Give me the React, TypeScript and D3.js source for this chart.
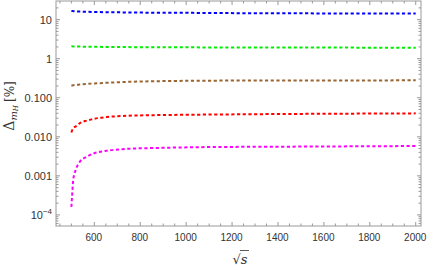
import React, { useEffect, useRef } from "react";
import * as d3 from "d3";

// sqrt(s) sample points (GeV)
const sqrtS = [500, 503, 508, 519, 537, 567, 600, 654, 741, 886, 1030, 1177, 1466, 1733, 2000];

// Delta m_H [%] for each curve
const blueVals = [16.7, 16.6, 16.5, 16.3, 16.1, 15.9, 15.7, 15.5, 15.3, 15.0, 14.9, 14.7, 14.5, 14.4, 14.3];
const greenVals = [2.07, 2.07, 2.06, 2.05, 2.04, 2.03, 2.02, 2.0, 1.98, 1.96, 1.95, 1.94, 1.93, 1.92, 1.91];
const brownVals = [0.203, 0.205, 0.208, 0.213, 0.219, 0.226, 0.232, 0.242, 0.255, 0.266, 0.272, 0.275, 0.278, 0.278, 0.279];
const redVals = [0.0129, 0.0145, 0.0165, 0.0185, 0.0224, 0.026, 0.029, 0.032, 0.0345, 0.036, 0.0368, 0.0374, 0.0385, 0.0392, 0.0398];
const magentaVals = [0.00016, 0.00030, 0.00079, 0.00143, 0.0023, 0.0031, 0.0038, 0.0044, 0.0049, 0.0052, 0.0054, 0.0055, 0.0056, 0.0057, 0.0058];

const series = [
  { name: "blue", color: "#0000ff", values: blueVals },
  { name: "green", color: "#00ee00", values: greenVals },
  { name: "brown", color: "#996633", values: brownVals },
  { name: "red", color: "#ff0000", values: redVals },
  { name: "magenta", color: "#ff00ff", values: magentaVals },
];

const xTicks = [600, 800, 1000, 1200, 1400, 1600, 1800, 2000];
const yTicks = [10, 1, 0.1, 0.01, 0.001, 0.0001];
const yTickLabels = ["10", "1", "0.100", "0.010", "0.001", "10^-4"];

function App() {
  const svgRef = useRef<SVGSVGElement>(null);

  useEffect(() => {
    const svg = d3.select(svgRef.current);
    svg.selectAll("*").remove();

    const width = 427;
    const height = 271;
    const margin = { left: 56, right: 6, top: 1, bottom: 45 };
    const frameColor = "#999";
    const textColor = "#333";

    const x = d3
      .scaleLinear()
      .domain([433, 2023])
      .range([margin.left, width - margin.right]);

    const y = d3
      .scaleLog()
      .domain([5.2e-5, 30])
      .range([height - margin.bottom, margin.top]);

    const axes = svg.append("g");

    // frame
    axes
      .append("rect")
      .attr("x", margin.left)
      .attr("y", margin.top)
      .attr("width", width - margin.left - margin.right)
      .attr("height", height - margin.top - margin.bottom)
      .attr("fill", "none")
      .attr("stroke", frameColor)
      .attr("stroke-width", 1);

    const x0 = margin.left;
    const x1 = width - margin.right;
    const y0 = height - margin.bottom;
    const y1 = margin.top;

    // x ticks (major 200, minor 50), bottom and top
    const xMinor = d3.range(450, 2023, 50).filter((v) => v % 200 !== 0);
    const xt = axes.append("g").attr("stroke", frameColor);
    xTicks.forEach((v) => {
      xt.append("line").attr("x1", x(v)).attr("x2", x(v)).attr("y1", y0).attr("y2", y0 - 4);
      xt.append("line").attr("x1", x(v)).attr("x2", x(v)).attr("y1", y1).attr("y2", y1 + 4);
    });
    xMinor.forEach((v) => {
      xt.append("line").attr("x1", x(v)).attr("x2", x(v)).attr("y1", y0).attr("y2", y0 - 2.5);
      xt.append("line").attr("x1", x(v)).attr("x2", x(v)).attr("y1", y1).attr("y2", y1 + 2.5);
    });

    axes
      .append("g")
      .selectAll("text")
      .data(xTicks)
      .join("text")
      .attr("x", (d) => x(d) - 0.5)
      .attr("y", y0 + 15)
      .attr("text-anchor", "middle")
      .attr("font-family", "Liberation Sans, Arial, sans-serif")
      .attr("font-size", 10)
      .attr("fill", textColor)
      .text((d) => d);

    // y ticks (log), left and right
    const yMinor: number[] = [];
    [-5, -4, -3, -2, -1, 0, 1].forEach((e) => {
      d3.range(2, 10).forEach((m) => {
        const v = m * Math.pow(10, e);
        if (v > 5.2e-5 && v < 30) yMinor.push(v);
      });
    });
    const yt = axes.append("g").attr("stroke", frameColor);
    yTicks.forEach((v) => {
      yt.append("line").attr("x1", x0).attr("x2", x0 + 4).attr("y1", y(v)).attr("y2", y(v));
      yt.append("line").attr("x1", x1).attr("x2", x1 - 4).attr("y1", y(v)).attr("y2", y(v));
    });
    yMinor.forEach((v) => {
      yt.append("line").attr("x1", x0).attr("x2", x0 + 2.5).attr("y1", y(v)).attr("y2", y(v));
      yt.append("line").attr("x1", x1).attr("x2", x1 - 2.5).attr("y1", y(v)).attr("y2", y(v));
    });

    const yl = axes
      .append("g")
      .attr("font-family", "Liberation Sans, Arial, sans-serif")
      .attr("font-size", 11)
      .attr("fill", textColor)
      .attr("text-anchor", "end");
    yTicks.forEach((v, i) => {
      const label = yTickLabels[i];
      const t = yl.append("text").attr("x", x0 - 4).attr("y", y(v) + 4);
      if (label.includes("^")) {
        const [base, exp] = label.split("^");
        t.append("tspan").text(base);
        t.append("tspan")
          .attr("font-size", 8)
          .attr("dy", -5)
          .text(exp.replace("-", "\u2212"));
      } else {
        t.text(label);
      }
    });

    // y axis title
    const yTitle = axes
      .append("text")
      .attr("transform", `translate(13.5,106) rotate(-90)`)
      .attr("text-anchor", "middle")
      .attr("fill", textColor)
      .attr("font-family", "DejaVu Serif, Liberation Serif, serif");
    yTitle.append("tspan").attr("font-size", 14).text("\u0394");
    yTitle
      .append("tspan")
      .attr("font-size", 10)
      .attr("font-style", "italic")
      .attr("dy", 3)
      .text("m");
    yTitle
      .append("tspan")
      .attr("font-size", 7)
      .attr("font-style", "italic")
      .attr("dy", 1.5)
      .text("H");
    yTitle
      .append("tspan")
      .attr("font-size", 12)
      .attr("dy", -4.5)
      .attr("dx", 3)
      .text("[%]");

    // x axis title: sqrt(s)
    const cx = 240;
    const xTitle = axes
      .append("text")
      .attr("x", cx)
      .attr("y", 264)
      .attr("text-anchor", "middle")
      .attr("fill", textColor)
      .attr("font-family", "DejaVu Serif, Liberation Serif, serif")
      .attr("font-size", 13);
    xTitle.append("tspan").text("\u221A");
    xTitle.append("tspan").attr("font-style", "italic").text("s");
    axes
      .append("line")
      .attr("x1", cx)
      .attr("x2", cx + 9)
      .attr("y1", 250.5)
      .attr("y2", 250.5)
      .attr("stroke", textColor)
      .attr("stroke-width", 0.8);

    // curves
    const line = d3
      .line<number>()
      .x((_, i) => x(sqrtS[i]))
      .y((d) => y(d))
      .curve(d3.curveMonotoneX);

    const content = svg.append("g");
    series.forEach((s) => {
      content
        .append("path")
        .attr("d", line(s.values))
        .attr("fill", "none")
        .attr("stroke", s.color)
        .attr("stroke-width", 2)
        .attr("stroke-dasharray", "3.2,2.5");
    });
  }, []);

  return (
    <svg
      ref={svgRef}
      width={427}
      height={271}
      style={{ position: "absolute", left: 0, top: 0, background: "#fff" }}
    ></svg>
  );
}

export default App;
